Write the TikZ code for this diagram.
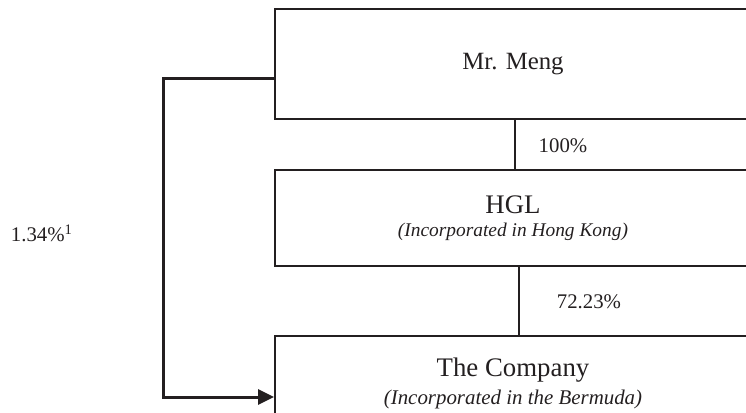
\documentclass[tikz,border=0pt]{standalone}
\usepackage{fontspec}
\setmainfont{Liberation Serif}
\usetikzlibrary{arrows.meta,positioning}
\definecolor{chartline}{HTML}{231F20}
\newcommand{\incsub}[2]{{\fontsize{#1}{12}\selectfont\itshape(#2)}}

\begin{document}
\begin{tikzpicture}[x=0.5pt,y=-0.5pt,
  box/.style={draw=chartline,line width=0.9pt,minimum width=238pt,inner sep=0pt,
    align=center,text=chartline,font=\fontsize{13.4}{12}\selectfont},
  pct/.style={font=\fontsize{10.4}{12}\selectfont,text=chartline,inner sep=0pt},
  holds/.style={draw=chartline,line width=1pt}]
  \useasboundingbox (0,0) rectangle (746,413);
  \clip (0,0) rectangle (746,413);
  % boxes
  \node[box,minimum height=55pt,font=\fontsize{12.4}{12}\selectfont] (meng) at (513,64) {Mr. Meng};
  \node[box,minimum height=48pt] (hgl) at (513,218)
        {HGL\\[-0.5pt]\incsub{9.7}{Incorporated in Hong Kong}};
  \node[box,minimum height=48pt,anchor=north] (company) at (513,335) {};
  \node[box,draw=none,minimum height=0pt,anchor=north] (companytxt) at (513,357)
        {The Company\\[2pt]\incsub{10.45}{Incorporated in the Bermuda}};
  % shareholdings
  \draw[holds] ([xshift=1pt]meng.south) -- ([xshift=1pt]hgl.north);
  \draw[holds] ([xshift=3pt]hgl.south) -- ([xshift=3pt]company.north);
  \node[pct] (p100) at (563,146) {100\%};
  \node[pct] (p7223) at (589,302) {72.23\%};
  \draw[chartline,line width=1.5pt,-{Triangle[length=8pt,width=7.5pt]}]
        ([yshift=-7pt]meng.west) -- ++(-111,0) |- ([yshift=-31pt]company.north west);
  \node[pct] (p134) at (42,233) {1.34\%\textsuperscript{1}};
\end{tikzpicture}
\end{document}
